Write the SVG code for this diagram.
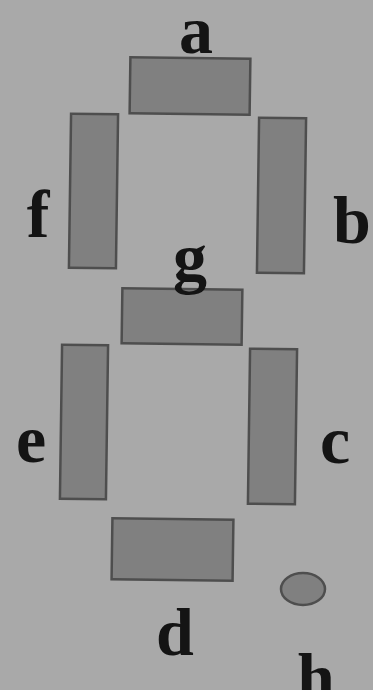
<svg xmlns="http://www.w3.org/2000/svg" width="373" height="690" viewBox="0 0 373 690">
<style>
.seg{fill:#808080;stroke:#4e4e4e;stroke-width:2.5}
.lbl{font-family:"Liberation Serif","Times New Roman",serif;font-weight:bold;font-size:68px;fill:#141414;text-anchor:middle}
</style>
<rect width="373" height="690" fill="#a9a9a9"/>
<g id="seg-a"><rect class="seg" x="130" y="58" width="120" height="56" transform="rotate(0.8 190 86)"/><text class="lbl" x="196" y="53">a</text></g>
<g id="seg-f"><rect class="seg" x="70" y="114" width="47" height="154" transform="rotate(0.8 93 191)"/><text class="lbl" x="38" y="237">f</text></g>
<g id="seg-b"><rect class="seg" x="258" y="118" width="47" height="155" transform="rotate(0.8 281 196)"/><text class="lbl" x="352" y="243">b</text></g>
<g id="seg-g"><rect class="seg" x="122" y="289" width="120" height="55" transform="rotate(0.8 182 316)"/><text class="lbl" x="190" y="281">g</text></g>
<g id="seg-e"><rect class="seg" x="61" y="345" width="46" height="154" transform="rotate(0.8 84 422)"/><text class="lbl" x="31" y="462">e</text></g>
<g id="seg-c"><rect class="seg" x="249" y="349" width="47" height="155" transform="rotate(0.8 272 426)"/><text class="lbl" x="335" y="463">c</text></g>
<g id="seg-d"><rect class="seg" x="112" y="519" width="121" height="61" transform="rotate(0.8 172 549)"/><text class="lbl" x="175" y="655">d</text></g>
<g id="seg-h"><ellipse class="seg" cx="303" cy="589" rx="22" ry="16" stroke-width="2"/><text class="lbl" x="316" y="700">h</text></g>
</svg>
